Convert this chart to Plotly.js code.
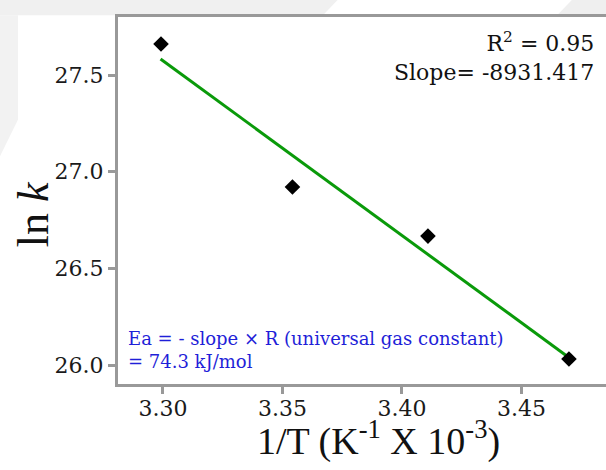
<!DOCTYPE html>
<html>
<head>
<meta charset="utf-8">
<script src="https://cdn.plot.ly/plotly-3.0.1.min.js"></script>
<style>
html, body { margin: 0; padding: 0; background: #ffffff; overflow: hidden; }
#chart { width: 606px; height: 470px; }
</style>
</head>
<body>
<div id="chart"></div>
<script>
// Data
const invT = [3.2992, 3.3542, 3.4109, 3.4699];      // 1/T (K^-1 x 10^-3)
const lnK = [27.660, 26.921, 26.667, 26.031];       // ln k
const fitX = [3.299, 3.469];                        // linear fit endpoints
const fitY = [27.583, 26.047];
const xTickVals = [3.30, 3.35, 3.40, 3.45];
const yTickVals = [26.0, 26.5, 27.0, 27.5];
const xTitle = "1/T (K<sup>-1</sup> X 10<sup>-3</sup>)";
const yTitle = "ln <i>k</i>";
const statsText = "R<sup>2</sup> = 0.95<br>Slope= -8931.417";
const eaText = "Ea = - slope × R (universal gas constant)<br>= 74.3 kJ/mol";

const serif = "Liberation Serif";
const wideSerif = "DejaVu Serif";

const traces = [
  {
    x: fitX, y: fitY, type: "scatter", mode: "lines",
    line: { color: "#0a9a0a", width: 3 },
    hoverinfo: "skip", showlegend: false
  },
  {
    x: invT, y: lnK, type: "scatter", mode: "markers",
    marker: { symbol: "diamond", size: 12, color: "#000000" },
    showlegend: false
  }
];

const layout = {
  width: 606, height: 470,
  margin: { l: 118, r: 0, t: 17, b: 86 },
  paper_bgcolor: "#ffffff", plot_bgcolor: "#ffffff",
  font: { family: serif, color: "#111111" },
  xaxis: {
    range: [3.2812, 3.4854],
    showline: true, mirror: true, linecolor: "#999999", linewidth: 3,
    ticks: "outside", ticklen: 7, tickwidth: 3, tickcolor: "#999999",
    showgrid: false, zeroline: false,
    tickvals: xTickVals, tickformat: ".2f",
    ticklabelstandoff: -4,
    tickfont: { family: wideSerif, size: 22, color: "#1a1a1a" }
  },
  yaxis: {
    range: [25.902, 27.80],
    showline: true, mirror: false, linecolor: "#999999", linewidth: 3,
    ticks: "outside", ticklen: 7, tickwidth: 3, tickcolor: "#999999",
    showgrid: false, zeroline: false,
    tickvals: yTickVals, tickformat: ".1f",
    tickfont: { family: wideSerif, size: 22, color: "#1a1a1a" }
  },
  shapes: [
    { type: "path", xref: "paper", yref: "paper", layer: "below",
      path: "M -0.242,1.046 L 0.45,1.046 L 0.42,1.005 L -0.242,1.005 Z",
      fillcolor: "#f0f0f0", line: { width: 0 } },
    { type: "path", xref: "paper", yref: "paper", layer: "below",
      path: "M -0.242,1.005 L -0.205,1.005 L -0.205,0.72 L -0.242,0.62 Z",
      fillcolor: "#f2f2f2", line: { width: 0 } },
    { type: "path", xref: "paper", yref: "paper", layer: "below",
      path: "M 0.93,1.046 L 1.0,1.046 L 1.0,1.005 L 0.9,1.005 Z",
      fillcolor: "#efefef", line: { width: 0 } }
  ],
  annotations: [
    {
      text: yTitle, xref: "paper", yref: "paper",
      x: -0.174, y: 0.463, xanchor: "center", yanchor: "middle",
      textangle: -90, showarrow: false,
      font: { family: serif, size: 44, color: "#111111" }
    },
    {
      text: xTitle, xref: "paper", yref: "paper",
      x: 0.533, y: -0.148, xanchor: "center", yanchor: "middle",
      showarrow: false,
      font: { family: serif, size: 38, color: "#111111" }
    },
    {
      text: statsText, xref: "paper", yref: "paper",
      x: 0.98, y: 0.892, xanchor: "right", yanchor: "middle", align: "right",
      showarrow: false,
      font: { family: wideSerif, size: 22, color: "#111111" }
    },
    {
      text: eaText, xref: "paper", yref: "paper",
      x: 0.016, y: 0.093, xanchor: "left", yanchor: "middle", align: "left",
      showarrow: false,
      font: { family: wideSerif, size: 18, color: "#1f1fd8" }
    }
  ]
};

Plotly.newPlot("chart", traces, layout, { displayModeBar: false, staticPlot: true });
</script>
</body>
</html>
